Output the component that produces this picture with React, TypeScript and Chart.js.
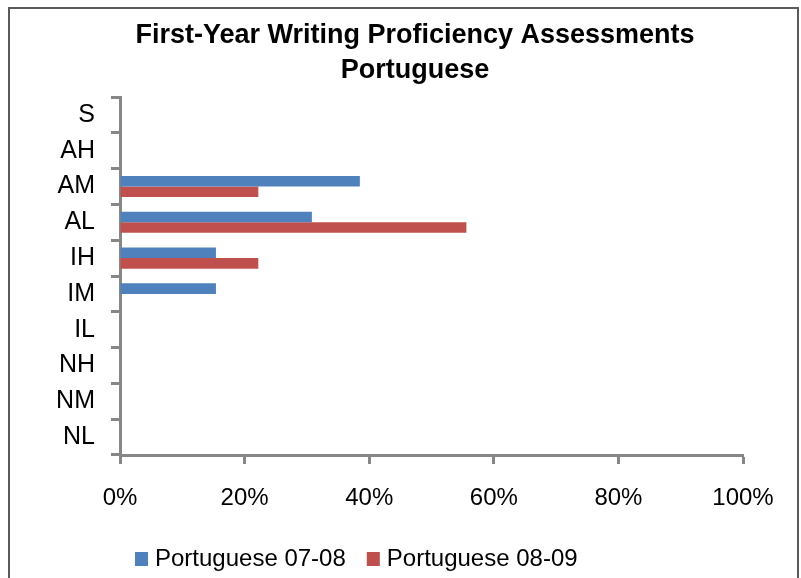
import React, { useEffect, useRef } from "react";
import { Chart, registerables } from "chart.js";

Chart.register(...registerables);

const categories = ["S", "AH", "AM", "AL", "IH", "IM", "IL", "NH", "NM", "NL"];
const series0708 = [0, 0, 38.5, 30.8, 15.4, 15.4, 0, 0, 0, 0];
const series0809 = [0, 0, 22.2, 55.6, 22.2, 0, 0, 0, 0, 0];
const xTicks = [0, 20, 40, 60, 80, 100];
const titleLines = ["First-Year Writing Proficiency Assessments", "Portuguese"];
const seriesNames = ["Portuguese 07-08", "Portuguese 08-09"];
const seriesColors = ["#4F81BD", "#C0504D"];

const FONT = "'Liberation Sans', Arial, Helvetica, sans-serif";
const AXIS = "#878787";

const frame = {
  id: "frame",
  beforeDraw(chart: any) {
    const { ctx, width, height } = chart;
    ctx.save();
    ctx.fillStyle = "#ffffff";
    ctx.fillRect(0, 0, width, height);
    ctx.strokeStyle = "#5a5a5a";
    ctx.lineWidth = 2;
    ctx.strokeRect(9, 8, 789, height + 20);
    ctx.restore();
  },
  afterDraw(chart: any) {
    const { ctx } = chart;
    ctx.save();
    // title
    ctx.fillStyle = "#000";
    ctx.textAlign = "center";
    ctx.textBaseline = "middle";
    ctx.font = `bold 27px ${FONT}`;
    titleLines.forEach((line, i) => ctx.fillText(line, 415, 36 + i * 35));
    // legend
    ctx.font = `24px ${FONT}`;
    ctx.textAlign = "left";
    let x = 135;
    const cy = 559;
    chart.data.datasets.forEach((ds: any, i: number) => {
      ctx.fillStyle = ds.backgroundColor;
      ctx.fillRect(x, cy - 7, 13, 14);
      ctx.fillStyle = "#000";
      ctx.fillText(ds.label, x + 20, cy);
      x += 20 + ctx.measureText(ds.label).width + 21;
    });
    ctx.restore();
  },
};

export default function App() {
  const ref = useRef<HTMLCanvasElement | null>(null);
  useEffect(() => {
    if (!ref.current) return;
    const chart = new Chart(ref.current, {
      type: "bar",
      data: {
        labels: categories,
        datasets: [
          {
            label: seriesNames[0],
            data: series0708,
            backgroundColor: seriesColors[0],
            categoryPercentage: 0.59,
            barPercentage: 1,
          },
          {
            label: seriesNames[1],
            data: series0809,
            backgroundColor: seriesColors[1],
            categoryPercentage: 0.59,
            barPercentage: 1,
          },
        ],
      },
      options: {
        indexAxis: "y",
        responsive: false,
        animation: false,
        layout: { padding: { left: 0, right: 58, top: 97, bottom: 42 } },
        plugins: {
          title: { display: false },
          legend: { display: false },
          tooltip: { enabled: false },
        },
        scales: {
          y: {
            type: "category",
            offset: true,
            grid: {
              display: true,
              drawOnChartArea: false,
              offset: true,
              tickLength: 9,
              tickColor: AXIS,
              tickWidth: 3,
            },
            border: { display: true, color: AXIS, width: 3 },
            ticks: {
              color: "#000",
              font: { family: FONT, size: 25 },
              padding: 16,
            },
            afterFit(scale: any) {
              scale.width = 120;
            },
          },
          x: {
            type: "linear",
            min: 0,
            max: 100,
            afterBuildTicks(scale: any) {
              scale.ticks = xTicks.map((v) => ({ value: v }));
            },
            grid: {
              display: true,
              drawOnChartArea: false,
              tickLength: 9,
              tickColor: AXIS,
              tickWidth: 3,
            },
            border: { display: true, color: AXIS, width: 3 },
            ticks: {
              color: "#000",
              font: { family: FONT, size: 24 },
              padding: 20,
              maxRotation: 0,
              callback: (v: any) => v + "%",
            },
            afterFit(scale: any) {
              scale.height = 81;
            },
          },
        },
      },
      plugins: [frame],
    } as any);
    return () => chart.destroy();
  }, []);
  return (
    <div style={{ position: "fixed", left: 0, top: 0, width: 801, height: 578 }}>
      <canvas ref={ref} width={801} height={578} />
    </div>
  );
}
